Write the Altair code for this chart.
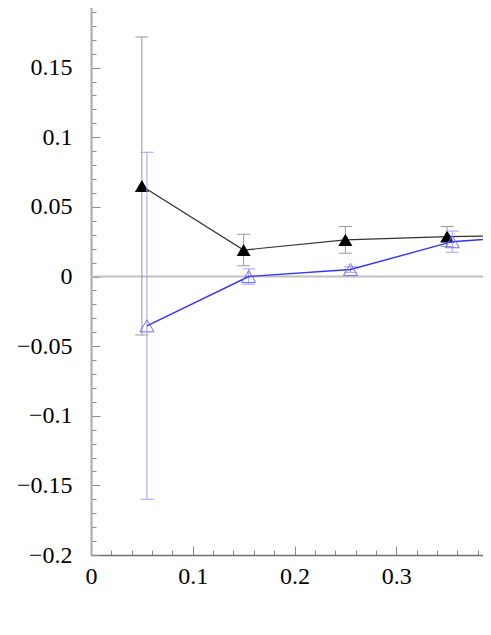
import altair as alt
import pandas as pd

# ---- data ----
x_black = [0.05, 0.15, 0.25, 0.35, 0.45]
y_black = [0.065, 0.019, 0.0263, 0.0287, 0.0297]
err_black = [0.107, 0.0113, 0.0096, 0.0072, 0.007]

x_blue = [0.055, 0.155, 0.255, 0.355, 0.455]
y_blue = [-0.0354, 0.0, 0.005, 0.025, 0.0303]
err_blue = [0.1246, 0.0055, 0.002, 0.0076, 0.007]

zero_level = [0.0]

x_major = [0, 0.1, 0.2, 0.3, 0.4]
x_minor = [0.02, 0.04, 0.06, 0.08, 0.12, 0.14, 0.16, 0.18, 0.22, 0.24,
           0.26, 0.28, 0.32, 0.34, 0.36, 0.38]
y_major = [-0.2, -0.15, -0.1, -0.05, 0, 0.05, 0.1, 0.15, 0.2]
y_minor = [-0.19, -0.18, -0.17, -0.16, -0.14, -0.13, -0.12, -0.11, -0.09,
           -0.08, -0.07, -0.06, -0.04, -0.03, -0.02, -0.01, 0.01, 0.02, 0.03,
           0.04, 0.06, 0.07, 0.08, 0.09, 0.11, 0.12, 0.13, 0.14, 0.16, 0.17,
           0.18, 0.19]


def frame(xv, yv, ev):
    return pd.DataFrame({
        "x": xv,
        "y": yv,
        "lo": [a - b for a, b in zip(yv, ev)],
        "hi": [a + b for a, b in zip(yv, ev)],
    })


black = frame(x_black, y_black, err_black)
blue = frame(x_blue, y_blue, err_blue)
zero = pd.DataFrame({"y": zero_level})

W, H = 407, 557
FONT = "Liberation Serif"
TICK = "#8c8c8c"
xs = alt.Scale(domain=[0, 0.4], nice=False, zero=False)
ys = alt.Scale(domain=[-0.2, 0.2], nice=False, zero=False)


def tick_axis(orient, offset, values, size):
    return alt.Axis(orient=orient, offset=offset, values=values, labels=False,
                    domain=False, ticks=True, tickSize=size, tickColor=TICK,
                    tickWidth=1, grid=False, title=None)


x_label_axis = alt.Axis(orient="bottom", values=x_major, format="~g", ticks=False,
                        tickSize=0, domain=True, domainColor="#6e6e6e", domainWidth=1.5,
                        labelFont=FONT, labelFontSize=24, labelColor="black",
                        labelPadding=9, labelFlush=False, labelOverlap=False,
                        grid=False, title=None)
y_label_axis = alt.Axis(orient="left", values=y_major, format="~g", ticks=False,
                        tickSize=0, domain=True, domainColor="#a8a8a8", domainWidth=2,
                        labelFont=FONT, labelFontSize=24, labelColor="black",
                        labelPadding=19, labelOverlap=False, grid=False, title=None)

zero_line = alt.Chart(zero).mark_rule(color="#c0c0c0", strokeWidth=2).encode(
    y=alt.Y("y:Q", scale=ys, axis=None)
)

# black series
b_err = alt.Chart(black).mark_rule(color="#999999", strokeWidth=1).encode(
    x=alt.X("x:Q", scale=xs, axis=tick_axis("top", -H, x_major, 9)),
    y=alt.Y("lo:Q", scale=ys, axis=tick_axis("right", -W, y_major, 9)),
    y2="hi:Q",
)
b_cap_lo = alt.Chart(black).mark_tick(orient="horizontal", size=13, thickness=1, color="#999999", opacity=1).encode(
    x=alt.X("x:Q", scale=xs, axis=tick_axis("top", -H, x_minor, 5)),
    y=alt.Y("lo:Q", scale=ys, axis=tick_axis("right", -W, y_minor, 5)),
)
b_cap_hi = alt.Chart(black).mark_tick(orient="horizontal", size=13, thickness=1, color="#999999", opacity=1).encode(
    x=alt.X("x:Q", scale=xs, axis=tick_axis("bottom", -H, x_major, 9)),
    y=alt.Y("hi:Q", scale=ys, axis=None),
)
b_line = alt.Chart(black).mark_line(color="#333333", strokeWidth=1.2).encode(
    x=alt.X("x:Q", scale=xs, axis=x_label_axis),
    y=alt.Y("y:Q", scale=ys, axis=y_label_axis),
)
b_pts = alt.Chart(black).mark_point(shape="triangle-up", size=196, filled=True,
                                    color="black", opacity=1).encode(
    x=alt.X("x:Q", scale=xs, axis=tick_axis("bottom", -H, x_minor, 5)),
    y=alt.Y("y:Q", scale=ys, axis=None),
)

# blue series
BLUE_ERR = "#a0a0ff"
u_err = alt.Chart(blue).mark_rule(color=BLUE_ERR, strokeWidth=1).encode(
    x=alt.X("x:Q", scale=xs, axis=None),
    y=alt.Y("lo:Q", scale=ys, axis=None),
    y2="hi:Q",
)
u_cap_lo = alt.Chart(blue).mark_tick(orient="horizontal", size=13, thickness=1, color=BLUE_ERR, opacity=1).encode(
    x=alt.X("x:Q", scale=xs, axis=None),
    y=alt.Y("lo:Q", scale=ys, axis=None),
)
u_cap_hi = alt.Chart(blue).mark_tick(orient="horizontal", size=13, thickness=1, color=BLUE_ERR, opacity=1).encode(
    x=alt.X("x:Q", scale=xs, axis=None),
    y=alt.Y("hi:Q", scale=ys, axis=None),
)
u_line = alt.Chart(blue).mark_line(color="#3333ff", strokeWidth=1.4).encode(
    x=alt.X("x:Q", scale=xs, axis=None),
    y=alt.Y("y:Q", scale=ys, axis=None),
)
u_pts = alt.Chart(blue).mark_point(shape="triangle-up", size=196, filled=False,
                                   color="#7070ff", strokeWidth=1, opacity=1).encode(
    x=alt.X("x:Q", scale=xs, axis=None),
    y=alt.Y("y:Q", scale=ys, axis=None),
)

chart = alt.layer(
    zero_line, b_err, b_cap_lo, b_cap_hi, b_line, b_pts,
    u_err, u_cap_lo, u_cap_hi, u_line, u_pts,
).resolve_axis(x="independent", y="independent").properties(
    width=W, height=H,
    padding={"left": 83, "top": -10, "right": -15, "bottom": 60},
    autosize=alt.AutoSizeParams(type="none"),
    background="white",
).configure_view(strokeWidth=0)

chart.save("out.html", embed_options={"renderer": "svg", "actions": False})
